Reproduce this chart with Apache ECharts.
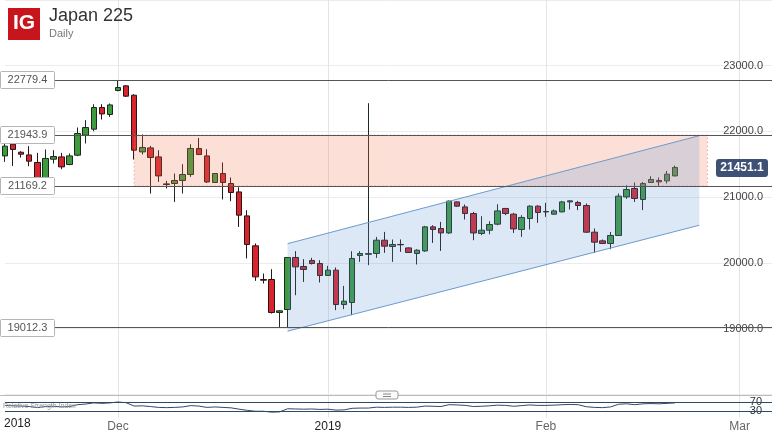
<!DOCTYPE html>
<html>
<head>
<meta charset="utf-8">
<script src="https://cdn.jsdelivr.net/npm/echarts@6/dist/echarts.min.js"></script>
<style>
html,body{margin:0;padding:0;background:#fff;}
#chart{width:772px;height:434px;}
</style>
</head>
<body>
<div id="chart"></div>
<script>
// ---------------- data ----------------
const title = 'Japan 225';
const subtitle = 'Daily';
const firstYearLabel = '2018';
const monthNames = ['Jan','Feb','Mar','Apr','May','Jun','Jul','Aug','Sep','Oct','Nov','Dec'];

const opens = [21627,21805,21683,21642,21527,21207,21577,21612,21496,21638,21942,22034,22364,22257,22623,22693,22551,21688,21749,21612,
21201,21207,21253,21344,21740,21627,21222,21359,21207,21079,20714,20258,19746,19746,19244,19289,20081,19944,20035,19989,
19807,19888,19365,19396,20111,20130,20142,20344,20248,20279,20227,20142,20181,20547,20522,20455,20927,20851,20750,20446,
20496,20588,20827,20740,20507,20674,20862,20780,20740,20775,20927,20918,20872,20466,20334,20294,20416,21003,21131,20964,
21222,21253,21247,21323];
const closes = [21775,21725,21653,21547,21240,21588,21618,21460,21627,21968,22059,22364,22266,22403,22668,22536,21714,21755,21603,21323,
21192,21253,21344,21740,21648,21231,21359,21222,21070,20725,20279,19786,19735,19244,19269,20081,19938,19898,19989,19807,
19888,19365,19416,20066,20142,20140,20344,20253,20279,20274,20157,20192,20547,20507,20455,20938,20862,20750,20455,20496,
20583,20790,20750,20516,20690,20862,20766,20775,20790,20927,20943,20872,20466,20314,20294,20416,21014,21116,20979,21207,
21268,21232,21349,21451.1];
const lows = [21536,21475,21603,21470,21190,21166,21511,21425,21486,21623,21816,22003,22181,22221,22610,22525,21572,21648,21055,21231,
21131,20927,21055,21307,21640,21216,21215,20964,20938,20546,20066,19725,19685,19228,19012.3,19020,19507,19709,19974,19700,
19800,19279,19294,19203,20014,19964,20075,20151,20014,20166,20150,19974,20166,20303,20181,20440,20851,20659,20344,20420,
20435,20572,20725,20455,20394,20507,20607,20699,20730,20770,20811,20801,20455,20151,20285,20207,20410,20973,20927,20801,
21215,21170,21207,21315];
const highs = [21825,21840,21699,21775,21673,21725,21714,21673,21664,22059,22171,22414,22414,22425,22769,22703,22566,21953,21779,21714,
21247,21359,21501,21805,21901,21729,21365,21527,21298,21150,20801,20294,19837,19903,19279,20085,20177,20055,20075,20040,
19953,19929,19649,20177,20177,22429,20394,20470,20355,20355,20235,20207,20562,20572,20623,20948,20935,20887,20775,20709,
20633,20892,20835,20760,20725,20877,20877,20912,20811,20943,20953,20943,20903,20522,20355,20470,21055,21181,21222,21231,
21318,21298,21399,21480];

// RSI-style indicator (read by eye)
const rsiVals = [55,53,52,50,45,50,51,48,50,58,61,66,64,66,70,67,52,53,50,46,
45,46,48,54,52,46,48,46,44,38,33,29,29,25,26,40,39,38,39,37,
38,34,35,42,43,43,47,46,47,47,46,47,52,51,50,58,57,55,50,51,
53,56,55,51,54,57,55,55,56,58,59,58,49,46,45,48,60,62,58,62,
63,62,64,66];
const oversoldVals = [null,null,null,null,null,null,null,null,null,null,null,null,null,null,null,null,null,null,null,null,
null,null,null,null,null,null,null,null,null,null,30,29,29,25,26,30];

const levelValues = [22779.4, 21943.9, 21169.2, 19012.3];
const lastPrice = 21451.1;
const zone = {start:16, end:87, top:21943.9, bottom:21169.2};
const channel = {start:35, end:86, upper:[20291,21935], lower:[18959,20572]};
const priceTicks = {min:18000, max:24000, interval:1000};
const rsiLevels = [70, 30];

// categories: trading days (Sun-Fri)
const categories = [];
(function(){
  let t = Date.UTC(2018,10,15);
  while (categories.length < 96) {
    const dt = new Date(t);
    if (dt.getUTCDay() !== 6) categories.push(dt.toISOString().slice(0,10));
    t += 86400000;
  }
})();
function isMonthStart(i){ return i>0 && categories[i].slice(5,7) !== categories[i-1].slice(5,7); }
function monthLabel(v){
  const m = parseInt(v.slice(5,7),10)-1;
  return m===0 ? '{y|'+v.slice(0,4)+'}' : '{m|'+monthNames[m]+'}';
}

const candleData = opens.map((o,i)=>[o, closes[i], lows[i], highs[i]]);

const FONT = '"Liberation Sans", Arial, sans-serif';
const chart = echarts.init(document.getElementById('chart'), null, {renderer:'canvas'});

const option = {
  animation:false,
  backgroundColor:'#fff',
  textStyle:{fontFamily:FONT},
  grid:[
    {left:5, right:0, top:0, height:394.2},
    {left:5, right:0, top:395.25, height:22.5}
  ],
  xAxis:[
    {type:'category', gridIndex:0, data:categories, boundaryGap:false,
     axisLine:{show:false}, axisTick:{show:false}, axisLabel:{show:false},
     splitLine:{show:true, interval:(i)=>isMonthStart(i), lineStyle:{color:'#e4e4e4', width:1}}},
    {type:'category', gridIndex:1, data:categories, boundaryGap:false,
     axisLine:{show:false}, axisTick:{show:false},
     axisLabel:{show:true, interval:(i)=>isMonthStart(i), formatter:monthLabel, margin:3,
       rich:{y:{color:'#222', fontSize:12, fontFamily:FONT}, m:{color:'#666', fontSize:12, fontFamily:FONT}}},
     splitLine:{show:true, interval:(i)=>isMonthStart(i), lineStyle:{color:'#e4e4e4', width:1}}}
  ],
  yAxis:[
    {type:'value', gridIndex:0, position:'right', min:priceTicks.min, max:priceTicks.max, interval:priceTicks.interval,
     axisLine:{show:false}, axisTick:{show:false},
     axisLabel:{inside:true, margin:9, color:'#444', fontSize:11, fontFamily:FONT, showMinLabel:false, showMaxLabel:false,
       formatter:(v)=>v.toFixed(1)},
     splitLine:{show:true, lineStyle:{color:'#ececec', width:1}}},
    {type:'value', gridIndex:1, position:'right', min:0, max:100, interval:10,
     axisLine:{show:false}, axisTick:{show:false}, splitLine:{show:false},
     axisLabel:{inside:true, margin:10, color:'#333', fontSize:11, fontFamily:FONT,
       formatter:(v)=> rsiLevels.indexOf(v)>=0 ? String(v) : ''}}
  ],
  series:[
    {type:'candlestick', xAxisIndex:0, yAxisIndex:0, data:candleData, barWidth:6, clip:false, z:2,
     itemStyle:{color:'#3d9b3d', color0:'#d9232e', borderColor:'#1f2a1f', borderColor0:'#2a1515', borderWidth:1},
     markLine:{silent:true, symbol:['none','none'], z:6,
       label:{show:false}, lineStyle:{color:'#555', width:1, type:'solid'},
       data: levelValues.map(v=>({yAxis:v}))}
    },
    {type:'custom', xAxisIndex:0, yAxisIndex:0, z:3, silent:true, clip:false,
     data:[[zone.start, zone.top]],
     renderItem:function(params, api){
       const p1 = api.coord([zone.start, zone.top]);
       const p2 = api.coord([zone.end, zone.bottom]);
       return {type:'rect', shape:{x:p1[0], y:p1[1], width:p2[0]-p1[0], height:p2[1]-p1[1]},
         style:{fill:'rgba(242,120,85,0.24)', stroke:'rgba(220,110,90,0.75)', lineWidth:1, lineDash:[1,3]}};
     }},
    {type:'custom', xAxisIndex:0, yAxisIndex:0, z:3, silent:true, clip:false,
     data:[[channel.start, channel.upper[0]]],
     renderItem:function(params, api){
       const a = api.coord([channel.start, channel.upper[0]]);
       const b = api.coord([channel.end, channel.upper[1]]);
       const c = api.coord([channel.end, channel.lower[1]]);
       const d = api.coord([channel.start, channel.lower[0]]);
       return {type:'group', children:[
         {type:'polygon', shape:{points:[a,b,c,d]}, style:{fill:'rgba(95,150,215,0.22)', stroke:null}},
         {type:'line', shape:{x1:a[0],y1:a[1],x2:b[0],y2:b[1]}, style:{stroke:'#6c9bcf', lineWidth:1}},
         {type:'line', shape:{x1:d[0],y1:d[1],x2:c[0],y2:c[1]}, style:{stroke:'#6c9bcf', lineWidth:1}}
       ]};
     }},
    {type:'line', xAxisIndex:1, yAxisIndex:1, data:oversoldVals, symbol:'none', z:2,
     lineStyle:{width:0}, areaStyle:{origin:30, color:'rgba(90,200,90,0.55)'}},
    {type:'line', xAxisIndex:1, yAxisIndex:1, data:rsiVals, symbol:'none', z:4, clip:false,
     lineStyle:{color:'#3b4756', width:1},
     markLine:{silent:true, symbol:['none','none'], label:{show:false},
       lineStyle:{color:'#2b4a68', width:1.2, type:'solid'},
       data: rsiLevels.map(v=>({yAxis:v}))}}
  ]
};
chart.setOption(option);

// ---------- overlay graphics (positions from the chart's own scales) ----------
const graphics = [];
// header
graphics.push({type:'rect', left:8, top:8, shape:{width:32, height:32}, style:{fill:'#c8141c'}, z:50});
graphics.push({type:'text', left:13, top:13, style:{text:'IG', fill:'#fff', font:'bold 21px '+FONT}, z:51});
graphics.push({type:'text', left:49, top:7, style:{text:title, fill:'#333', font:'18px '+FONT}, z:50});
graphics.push({type:'text', left:49, top:28, style:{text:subtitle, fill:'#777', font:'11px '+FONT}, z:50});
// level label boxes
levelValues.forEach(v=>{
  const y = chart.convertToPixel({yAxisIndex:0}, v);
  graphics.push({type:'rect', shape:{x:0.5, y:Math.round(y)-8.5, width:54, height:17, r:1},
    style:{fill:'#fff', stroke:'#b5b5b5', lineWidth:1}, z:40});
  graphics.push({type:'text', x:27.5, y:Math.round(y), style:{text:v.toFixed(1), fill:'#555', font:'11px '+FONT,
    textAlign:'center', textVerticalAlign:'middle'}, z:41});
});
// last price box
(function(){
  const y = chart.convertToPixel({yAxisIndex:0}, lastPrice);
  graphics.push({type:'rect', shape:{x:716, y:y-8.5, width:52, height:18, r:3}, style:{fill:'#3e5175'}, z:40});
  graphics.push({type:'text', x:742, y:y+0.5, style:{text:lastPrice.toFixed(1), fill:'#fff', font:'bold 12px '+FONT,
    textAlign:'center', textVerticalAlign:'middle'}, z:41});
})();
// separator + handle
graphics.push({type:'line', shape:{x1:0, y1:395.5, x2:772, y2:395.5}, style:{stroke:'#bbb', lineWidth:1}, z:30});
graphics.push({type:'rect', shape:{x:376, y:391, width:22, height:8, r:2}, style:{fill:'#fafafa', stroke:'#999', lineWidth:1}, z:31});
graphics.push({type:'line', shape:{x1:383, y1:394, x2:391, y2:394}, style:{stroke:'#888', lineWidth:1}, z:32});
graphics.push({type:'line', shape:{x1:383, y1:396.5, x2:391, y2:396.5}, style:{stroke:'#888', lineWidth:1}, z:32});
// indicator name and first year label
graphics.push({type:'text', left:3, top:403, style:{text:'Relative Strength Index', fill:'#999', font:'7px '+FONT}, z:30});
graphics.push({type:'text', left:4, top:418, style:{text:firstYearLabel, fill:'#222', font:'12px '+FONT}, z:30});
chart.setOption({graphic:graphics});
</script>
</body>
</html>
